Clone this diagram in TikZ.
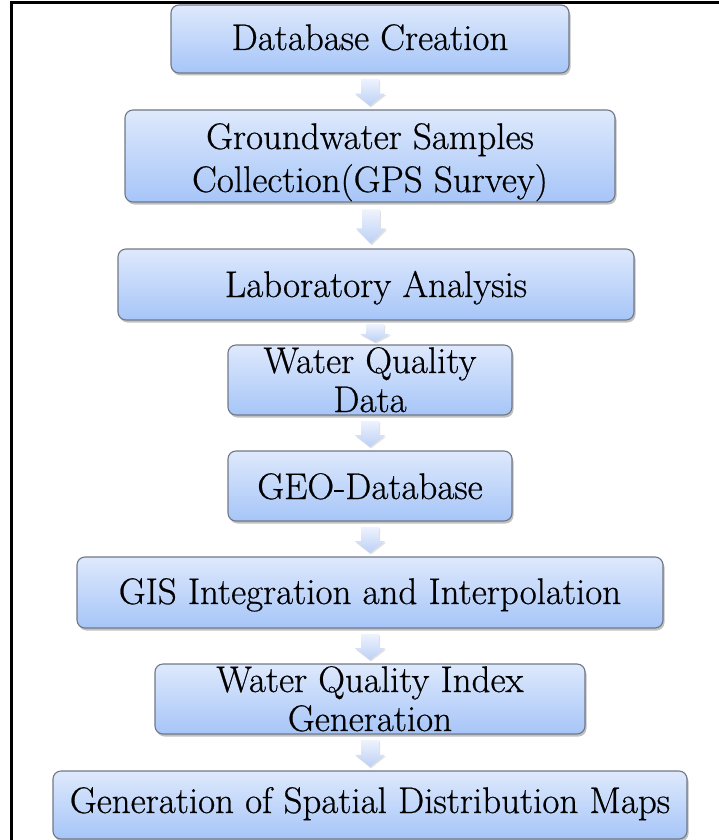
\documentclass[tikz,border=0pt]{standalone}
\usepackage{fontspec}
\setmainfont{Latin Modern Roman}
\newfontfamily\stagefont{Latin Modern Roman}[FakeBold=0.6]
\usetikzlibrary{calc,shadows}

\definecolor{boxtop}{RGB}{222,233,252}
\definecolor{boxbot}{RGB}{166,197,248}
\definecolor{boxedge}{RGB}{112,120,134}
\definecolor{arrtop}{RGB}{238,243,253}
\definecolor{arrbot}{RGB}{188,208,245}

\tikzset{
  stage/.style={draw=boxedge, line width=1.1pt, rounded corners=8pt,
    top color=boxtop, bottom color=boxbot, inner sep=0pt,
    drop shadow={shadow xshift=1.5pt, shadow yshift=-2.5pt, opacity=0.35, fill=black!70}},
  caption/.style={anchor=base, inner sep=0pt, font=\stagefont\fontsize{37}{40}\selectfont},
  flowarrow/.style={top color=arrtop, bottom color=arrbot,
    drop shadow={shadow xshift=1pt, shadow yshift=-1.5pt, opacity=0.2, fill=black!60}},
  frameline/.style={line width=3pt, draw=black}
}

% block arrow running from the bottom of #1 to the top of #2
\newcommand{\stagelink}[2]{%
  \path[flowarrow] let \p1=($(#1.south)!0.15!(#2.north)$),
                       \p2=($(#1.south)!0.90!(#2.north)$),
                       \n1={0.45*(\y1-\y2)} in
    (\x1-9pt,\y1) -- (\x1+9pt,\y1) -- (\x1+9pt,{\y2+\n1*1pt})
    -- (\x1+15pt,{\y2+\n1*1pt}) -- (\x1,\y2) -- (\x1-15pt,{\y2+\n1*1pt})
    -- (\x1-9pt,{\y2+\n1*1pt}) -- cycle;}

\begin{document}
\begin{tikzpicture}[x=1pt,y=-1pt]
\useasboundingbox (0,0) rectangle (719,840);
\clip (0,0) rectangle (719,840);

% outer frame (only its left and top sides fall inside the page)
\draw[frameline] (11.5,900) -- (11.5,3) -- (800,3);

% stages
\node[stage, minimum width=398pt, minimum height=68pt] (b1) at (370,39) {};
\node[stage, minimum width=490pt, minimum height=92pt] (b2) at (370,156) {};
\node[stage, minimum width=516pt, minimum height=71pt] (b3) at (376,284.5) {};
\node[stage, minimum width=284pt, minimum height=70pt] (b4) at (370,380) {};
\node[stage, minimum width=284pt, minimum height=70pt] (b5) at (370,486) {};
\node[stage, minimum width=586pt, minimum height=71pt] (b6) at (370,592.5) {};
\node[stage, minimum width=430pt, minimum height=70pt] (b7) at (370,699) {};
\node[stage, minimum width=634pt, minimum height=68pt] (b8) at (370,805) {};

% texts
\node[caption] (t1)  at (370,50)  {Database Creation};
\node[caption] (t2a) at (370,149) {Groundwater Samples};
\node[caption] (t2b) at (370,192) {Collection(GPS Survey)};
\node[caption] (t3)  at (376,297) {Laboratory Analysis};
\node[caption] (t4a) at (370,373) {Water Quality};
\node[caption] (t4b) at (370,412) {Data};
\node[caption] (t5)  at (370,499) {GEO-Database};
\node[caption] (t6)  at (370,604) {GIS Integration and Interpolation};
\node[caption] (t7a) at (370,692) {Water Quality Index};
\node[caption] (t7b) at (370,731) {Generation};
\node[caption] (t8)  at (370,813) {Generation of Spatial Distribution Maps};

% arrows between stages
\stagelink{b1}{b2}
\stagelink{b2}{b3}
\stagelink{b3}{b4}
\stagelink{b4}{b5}
\stagelink{b5}{b6}
\stagelink{b6}{b7}
\stagelink{b7}{b8}
\end{tikzpicture}
\end{document}
